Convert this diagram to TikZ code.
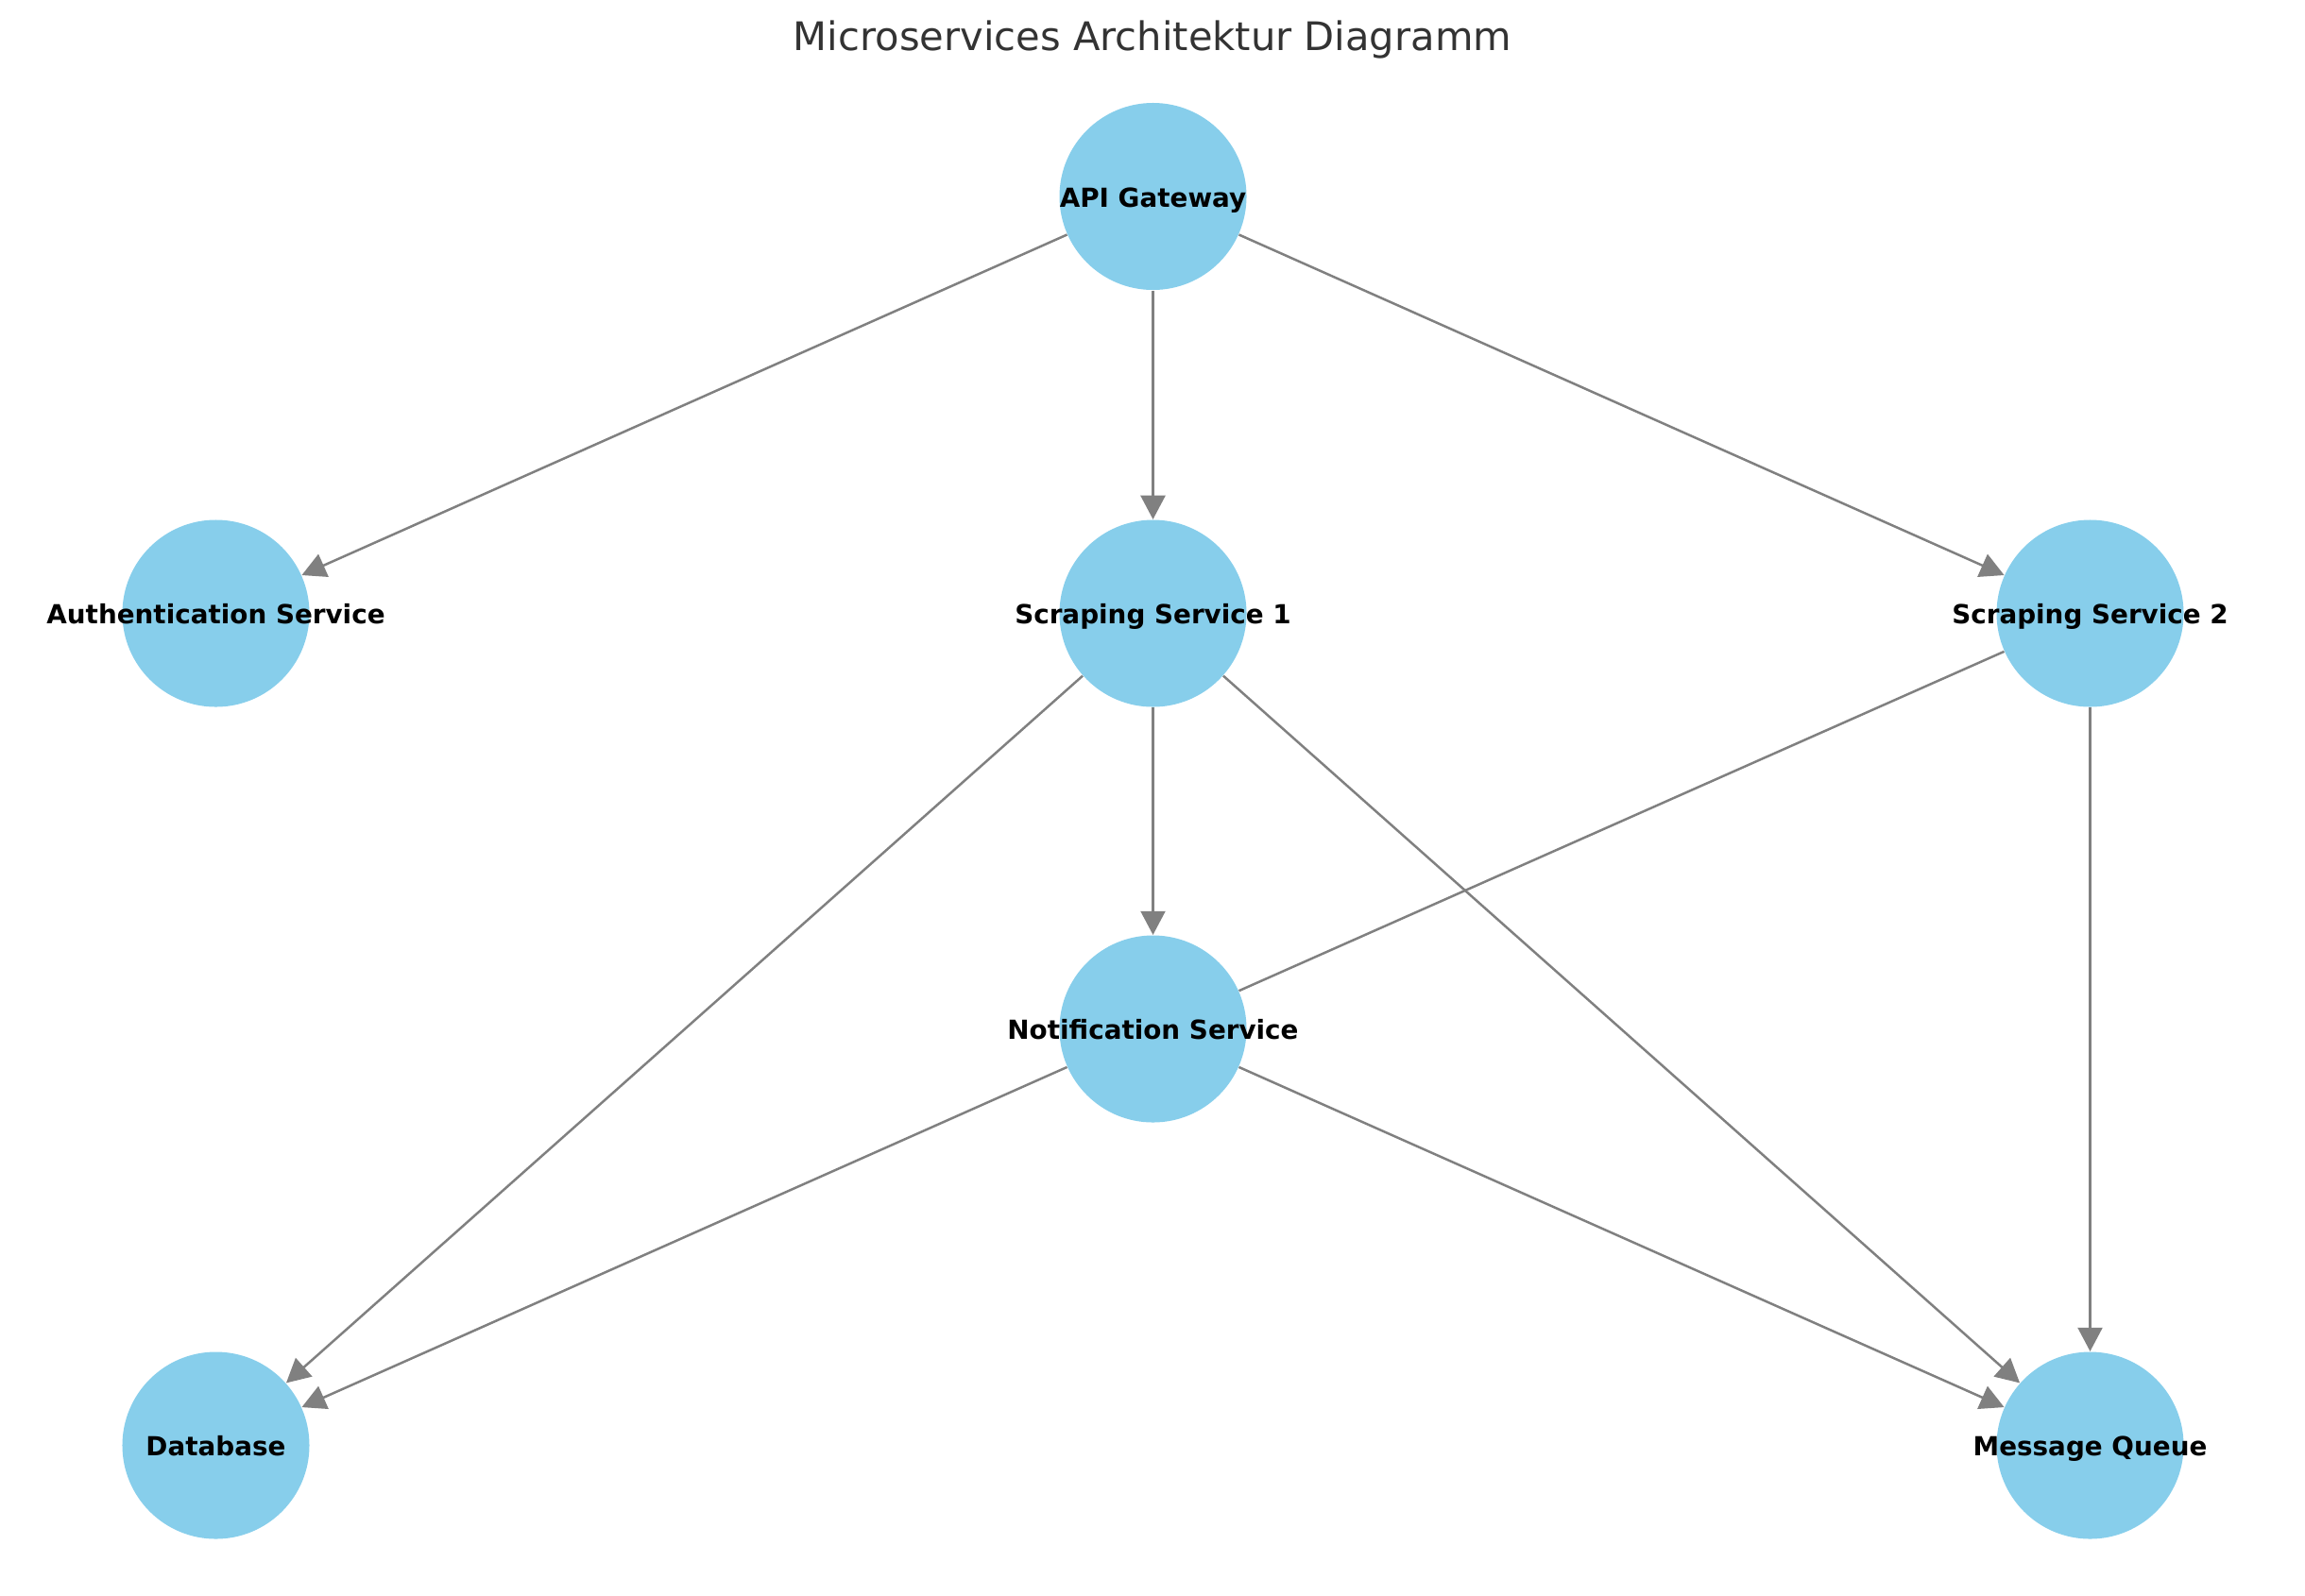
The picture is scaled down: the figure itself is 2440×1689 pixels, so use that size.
\documentclass[tikz,border=0pt]{standalone}
\usepackage{fontspec}
\setmainfont{DejaVu Sans}
\definecolor{nodeblue}{HTML}{87CEEB}
\definecolor{edgegray}{HTML}{808080}
\definecolor{titlegray}{HTML}{333333}
\usepackage{tikz}
\usetikzlibrary{arrows.meta}

\begin{document}
\begin{tikzpicture}[x=0.127mm,y=-0.127mm,>={Triangle[length=3.2mm,width=3.3mm]},
    svc/.style={circle,fill=nodeblue,minimum size=25.15mm,inner sep=0pt},
    lbl/.style={font=\fontsize{10.05}{12}\selectfont\bfseries,text height=0.9em,text depth=0.1em,inner sep=0pt},
    flow/.style={draw=edgegray,line width=0.9pt}]
  \useasboundingbox (0,0) rectangle (2440,1689);
  \node[font=\fontsize{15.05}{18}\selectfont,text=titlegray,anchor=base] (title) at (1220,53) {Microservices Architektur Diagramm};
  \node[svc,label={[lbl]center:API Gateway}] (api) at (1220.5,208) {};
  \node[svc,label={[lbl]center:Authentication Service}] (auth) at (228.5,649.5) {};
  \node[svc,label={[lbl]center:Scraping Service 1}] (scr1) at (1220.5,649.5) {};
  \node[svc,label={[lbl]center:Scraping Service 2}] (scr2) at (2212.5,649.5) {};
  \node[svc,label={[lbl]center:Notification Service}] (notif) at (1220.5,1089.5) {};
  \node[svc,label={[lbl]center:Database}] (db) at (228.5,1530.5) {};
  \node[svc,label={[lbl]center:Message Queue}] (mq) at (2212.5,1530.5) {};
  \draw[flow,->] (api)--(auth);
  \draw[flow,->] (api)--(scr1);
  \draw[flow,->] (api)--(scr2);
  \draw[flow,->] (scr1)--(notif);
  \draw[flow,->] (scr1)--(db);
  \draw[flow,->] (scr1)--(mq);
  \draw[flow] (scr2)--(notif);
  \draw[flow,->] (scr2)--(mq);
  \draw[flow,->] (notif)--(db);
  \draw[flow,->] (notif)--(mq);
\end{tikzpicture}
\end{document}
